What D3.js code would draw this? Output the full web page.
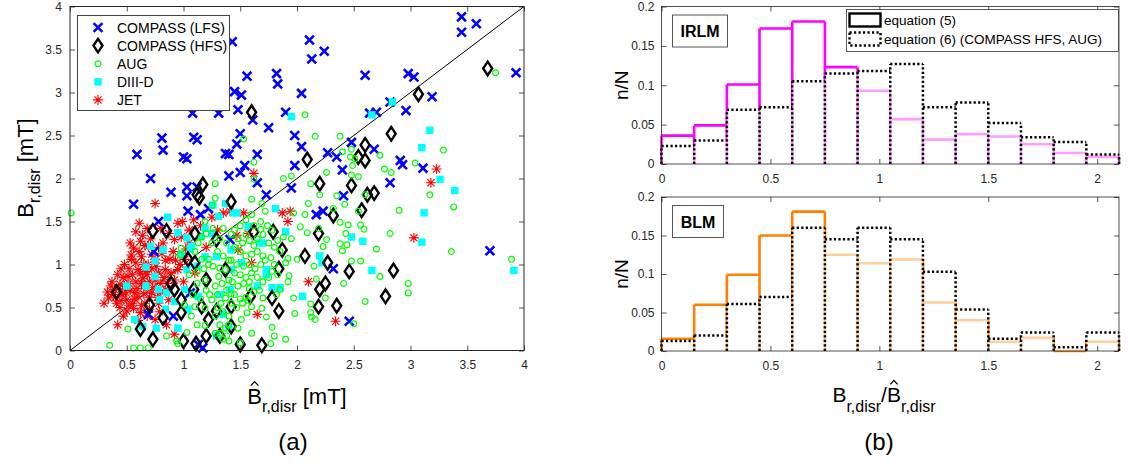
<!DOCTYPE html>
<html><head><meta charset="utf-8">
<script src="https://cdn.jsdelivr.net/npm/d3@7"></script>
<style>
body{margin:0;background:#fff}
svg{display:block}
text{font-family:"Liberation Sans",Arial,Helvetica,sans-serif}
</style>
</head><body>
<svg id="chart" width="1129" height="467"></svg>
<script>
// ---------------- DATA ----------------
const seriesNames = ["COMPASS (LFS)", "COMPASS (HFS)", "AUG", "DIII-D", "JET"];

const compassLFS = [[3.45,3.88],[3.45,3.70],[3.58,3.80],[3.93,3.23],[2.98,3.22],[3.03,3.18],[3.19,2.95],[2.96,2.79],[2.91,2.21],[2.93,2.16],[3.11,2.12],
[2.11,3.61],[2.13,3.39],[2.24,3.48],[1.82,3.22],[1.83,3.10],[1.56,3.19],[2.60,3.20],[2.04,2.99],[1.90,2.77],[1.61,2.68],[1.75,2.59],[1.98,2.50],[2.04,2.37],[1.65,2.28],[1.98,2.15],[2.27,2.30],[2.35,2.25],[2.40,2.10],[2.48,2.42],[2.64,2.76],[2.70,2.77],[2.82,2.89],[2.68,2.34],[2.82,1.95],
[1.43,3.59],[1.45,3.01],[1.51,2.97],[1.08,2.76],[1.31,2.76],[1.48,2.80],[0.81,2.47],[0.82,2.33],[0.59,2.28],[1.09,2.48],[1.12,2.45],[1.00,2.25],[1.03,2.23],[1.37,2.29],[1.40,2.28],[1.50,2.52],[1.47,2.40],[1.54,2.15],[1.50,2.07],[1.40,2.03],[0.71,2.00],
[0.89,1.84],[0.56,1.70],[1.03,1.90],[1.03,1.80],[1.12,1.90],[1.04,1.62],[1.15,1.58],[1.22,1.65],[0.78,1.50],[0.74,1.15],[0.69,0.42],[0.91,0.40],[1.17,0.03],[1.13,0.07],[1.06,0.67],
[1.65,1.95],[1.95,1.89],[1.73,1.81],[2.17,1.58],[2.23,1.62],[2.41,1.80],[1.41,1.29],[2.32,0.95],[2.46,0.34],[3.70,1.16]];

const compassHFS = [[3.68,3.28],[3.07,2.98],[1.60,2.77],[2.09,2.22],[2.60,2.39],[2.54,2.25],[2.60,2.21],[2.83,2.52],[2.20,1.94],[1.17,1.93],
[1.12,1.81],[1.14,1.78],[0.73,1.39],[0.85,1.39],[1.10,1.36],[0.41,0.68],[0.89,0.78],[0.92,0.71],[0.82,0.38],[0.73,0.13],[0.70,0.53],[1.00,0.11],[1.11,0.08],[1.20,0.17],[1.22,0.36],[0.98,0.44],[1.09,0.71],[0.98,0.59],[1.16,0.51],[1.20,0.82],[1.29,0.46],[1.37,0.94],[1.29,1.29],[1.04,1.06],[1.10,1.02],[0.62,0.25],[1.32,0.17],
[2.48,1.92],[2.68,1.83],[2.62,1.81],[1.42,1.73],[2.32,1.57],[2.57,1.63],[2.19,1.36],[2.07,1.10],[2.27,1.02],[2.46,0.92],[2.25,0.78],[2.20,0.71],[2.78,0.63],[2.35,0.52],[2.19,0.51],[1.84,0.46],[1.69,0.06],[1.50,0.07],[1.42,0.28],[1.87,1.17],[1.78,0.61],[1.59,0.63],[1.84,0.95],[1.79,1.38],[1.62,1.38],[1.42,0.51],[2.85,0.93]];

const aug = [[3.75,3.23],[3.29,2.33],[3.04,2.18],
[2.07,2.74],[2.16,2.49],[2.38,2.49],[1.62,2.19],[2.40,2.31],[2.48,2.34],[2.47,2.25],[2.51,2.23],[2.49,2.15],[2.48,2.04],[2.54,2.02],[2.26,2.07],[1.95,2.03],[1.88,2.00],[2.73,2.27],[2.77,2.11],[2.83,2.07],[1.62,1.99],[1.53,2.46],
[3.17,1.81],[3.38,1.67],[2.90,1.63],[2.82,1.36],[3.36,1.15],[3.89,1.06],[2.98,0.78],[2.98,0.67],
[2.12,1.94],[2.20,1.81],[2.35,1.80],[2.42,1.70],[2.60,1.81],[1.60,1.76],[2.10,1.71],[2.32,1.65],[2.54,1.62],[1.69,1.71],[1.97,1.60],[2.07,1.58],[2.38,1.49],[2.45,1.46],[2.19,1.42],[2.03,1.44],[1.68,1.41],[2.56,1.46],[2.43,1.36],[2.09,1.37],[2.26,1.29],[2.59,1.41],[2.38,1.24],[2.44,1.23],[2.40,1.16],[2.70,1.18],[2.23,1.21],[2.00,1.06],[1.92,1.07],[2.48,1.04],[2.56,1.04],[2.15,0.98],[1.90,1.02],[1.93,0.87],[2.17,0.83],[2.41,0.78],[2.73,0.86],[1.97,0.61],[2.12,0.54],[2.25,0.61],[2.60,0.57],[1.98,0.43],[2.12,0.44],[2.13,0.39],[2.16,0.36],[1.73,0.39],[1.78,0.27],[1.80,0.17],[1.90,0.13],[1.77,0.08],[2.50,0.31],[1.69,0.49],[1.60,0.51],[1.56,0.44],[1.51,0.36],[1.48,0.26],[1.50,0.09],[1.60,0.20],[1.70,0.61],[1.92,0.80],[1.82,0.65],[1.85,0.71],
[1.45,1.40],[1.50,1.45],[1.55,1.35],[1.48,1.30],[1.52,1.25],[1.58,1.28],[1.62,1.22],[1.45,1.20],[1.50,1.15],[1.55,1.10],[1.60,1.12],[1.65,1.15],[1.70,1.10],[1.42,1.05],[1.47,1.00],[1.53,0.98],[1.58,1.00],[1.63,0.95],[1.68,1.00],[1.72,1.05],[1.77,1.08],[1.80,1.00],[1.45,0.90],[1.50,0.88],[1.55,0.85],[1.60,0.90],[1.65,0.85],[1.70,0.80],[1.75,0.85],[1.43,0.80],[1.48,0.75],[1.53,0.78],[1.58,0.72],[1.62,0.68],[1.67,0.70],[1.45,0.65],[1.50,0.60],[1.55,0.62],[1.42,0.55],[1.47,0.50],[1.52,0.55],[1.57,0.58],[1.65,1.30],[1.70,1.35],[1.75,1.25],[1.80,1.20],[1.85,1.15],[1.62,1.45],[1.68,1.50],[1.74,1.45],[1.78,1.40],[1.60,1.58],[1.55,1.52],[1.72,1.62],[1.83,1.28],[1.88,1.32],[1.95,1.30],[1.78,0.92],[1.83,0.88],[1.58,0.80],
[1.28,1.94],[1.28,1.77],[0.01,1.60],[1.25,1.69],[1.19,1.50],[1.26,1.42],[1.35,1.42],[1.20,1.36],[0.98,1.19],[0.97,1.11],[1.16,1.06],[1.22,1.06],[1.26,0.98],[1.32,0.96],[1.37,0.94],[1.31,0.86],[1.40,0.82],[1.19,0.82],[1.12,0.78],[1.28,0.75],[1.34,0.78],[1.23,0.65],[1.25,0.59],[1.37,0.61],[1.01,0.53],[1.10,0.51],[1.19,0.49],[1.07,0.40],[1.12,0.30],[1.03,0.21],[1.19,0.29],[1.32,0.30],[1.37,0.26],[1.35,0.13],[1.40,0.11],[0.51,0.25],[0.35,0.06],[0.56,0.03],[0.62,0.03],[0.69,0.03],[0.85,0.17],[0.94,0.11],[0.95,0.08],[1.28,0.20],[1.32,0.20],
[1.30,0.50],[1.35,0.45],[1.40,0.40],[1.28,0.40],[1.38,0.70],[1.42,0.66],[1.33,0.55],[1.40,0.30],[1.38,0.17],[1.30,0.65],[1.20,0.70],[1.15,0.60],[1.08,0.65],[1.05,0.88],[1.12,0.92],[1.18,0.95],[1.22,1.00],[1.10,1.15],[1.13,1.25],[1.16,1.32],[1.25,1.25],[1.32,1.30],[1.38,1.25],[1.42,1.35],[1.35,1.10],[1.40,1.05],[1.30,1.15]];

const diiid = [[3.17,2.56],[3.10,2.36],[3.26,1.99],[1.95,2.72],[2.66,2.74],[2.84,2.89],[3.39,1.86],[3.12,1.60],[3.10,1.26],[3.91,0.93],
[0.86,1.55],[0.71,1.21],[0.82,1.17],[0.95,1.37],[1.03,1.31],[1.07,1.21],[0.98,1.11],[0.75,1.04],[0.67,0.97],[0.75,0.86],[0.67,0.75],[0.50,0.75],[0.78,0.71],[0.79,0.59],[0.85,0.67],[0.92,0.57],[1.01,0.71],[1.03,0.94],[1.12,0.98],[1.19,1.09],[1.29,1.09],[1.25,1.36],[1.31,1.56],[1.37,1.71],[1.26,1.69],[0.57,0.36],[0.64,0.28],[0.76,0.26],[0.84,0.48],[0.95,0.26],[1.04,0.48],[1.13,0.63],[1.19,1.42],[1.15,1.33],[1.29,0.17],[1.35,0.42],[1.32,0.65],[1.40,0.28],[1.06,1.18],
[1.44,1.60],[1.47,1.60],[1.81,1.65],[1.57,1.44],[1.90,1.38],[1.67,1.25],[1.70,1.25],[1.42,1.17],[1.51,1.02],[1.42,0.94],[1.73,0.94],[1.73,0.88],[1.65,0.75],[1.78,0.73],[1.85,0.73],[1.41,0.71],[2.05,0.63],[2.20,1.10],[2.22,1.02],[2.48,1.32],[2.58,1.27],[2.66,0.93]];

const jet = [[0.61,1.48],[0.62,1.27],[0.56,1.19],[0.75,1.71],[0.82,1.25],[0.92,1.29],[0.95,1.48],[0.99,1.50],[1.09,1.52],[0.88,1.06],[0.75,1.06],[0.69,1.00],[0.60,0.94],[0.51,0.86],[0.42,0.88],[0.39,0.71],[0.34,0.61],[0.41,0.55],[0.50,0.59],[0.57,0.67],[0.66,0.75],[0.75,0.82],[0.84,0.94],[0.81,1.13],[0.69,1.21],[0.63,1.09],[0.54,1.06],[0.48,0.75],[0.56,0.49],[0.62,0.44],[0.70,0.48],[0.42,0.30],[0.47,0.40],[0.60,0.63],[0.72,0.67],[0.84,0.71],[0.92,0.82],[0.76,0.98],[0.95,0.94],[1.01,1.06],[0.91,1.15],[0.87,1.36],[0.98,1.32],[0.64,1.34],[0.54,1.11],[0.44,0.77],[0.87,0.59],[0.78,0.55],[0.66,0.55],[0.92,0.19],[0.50,0.46],[0.38,0.65],[0.64,0.84],[0.75,0.36],
[0.58,0.80],[0.62,0.90],[0.68,0.88],[0.72,0.95],[0.78,0.90],[0.53,0.70],[0.46,0.65],[0.55,0.55],[0.70,0.62],[0.80,0.78],[0.65,1.00],[0.58,1.02],[0.72,1.12],[0.45,0.95],[0.52,0.95],[0.36,0.75],[0.30,0.55],[0.44,0.50],[0.60,0.35],[0.85,0.30],
[0.33,0.68],[0.37,0.80],[0.40,0.62],[0.43,0.72],[0.47,0.85],[0.49,0.68],[0.52,0.78],[0.55,0.88],[0.57,0.60],[0.59,0.72],[0.63,0.78],[0.65,0.66],[0.67,0.92],[0.70,0.80],[0.73,0.73],[0.77,0.62],[0.80,0.68],[0.83,0.85],[0.86,0.78],[0.89,0.90],[0.61,1.15],[0.66,1.22],[0.71,1.30],[0.78,1.20],[0.84,1.05],[0.48,1.00],[0.53,1.25],[0.58,1.38],[0.68,1.42],[0.80,1.42],[0.45,0.58],[0.52,0.52],[0.63,0.52],[0.68,0.40],[0.79,0.45],[0.97,1.00],[1.02,1.18],[0.93,1.05],
[1.15,1.45],[1.25,1.55],[1.05,1.40],[1.20,1.20],[1.30,1.40],[1.35,1.60],[1.10,0.90],[1.00,0.80],[1.05,1.25],
[1.53,1.60],[1.57,1.36],[1.87,1.60],[1.94,1.62],[1.92,1.50],[2.10,0.80],[1.65,0.42],[2.34,0.34],[1.47,1.34],[1.48,1.17],[1.60,1.02],[1.41,1.62],
[3.23,2.11],[3.18,1.95],[3.03,1.31],[1.62,2.06]];

const scatterTicks = [0,0.5,1,1.5,2,2.5,3,3.5,4];

const binEdges = [0,0.15,0.3,0.45,0.6,0.75,0.9,1.05,1.2,1.35,1.5,1.65,1.8,1.95,2.1];
const irlmEq5 = [0.036,0.049,0.101,0.172,0.181,0.123,0.093,0.057,0.031,0.038,0.035,0.025,0.014,0.009];
const irlmEq6 = [0.023,0.030,0.069,0.072,0.105,0.115,0.118,0.127,0.072,0.078,0.052,0.034,0.028,0.012];
const blmEq5  = [0.016,0.060,0.099,0.150,0.181,0.125,0.114,0.119,0.063,0.040,0.012,0.017,0.000,0.012];
const blmEq6  = [0.013,0.020,0.061,0.070,0.160,0.145,0.160,0.145,0.103,0.054,0.016,0.024,0.005,0.024];
const histXTicks = [0,0.5,1,1.5,2];
const histYTicks = [0,0.05,0.1,0.15,0.2];
const histLegend = ["equation (5)", "equation (6) (COMPASS HFS, AUG)"];
const panelNames = ["IRLM", "BLM"];

// ---------------- DRAWING ----------------
const svg = d3.select("#chart");
const AX = "#262626";
const fmt = d => String(d);

const markerPath = {
  x:(x,y)=>`M${x-4.4},${y-4.4}L${x+4.4},${y+4.4}M${x-4.4},${y+4.4}L${x+4.4},${y-4.4}`,
  d:(x,y)=>`M${x},${y-6.8}L${x+4.5},${y}L${x},${y+6.8}L${x-4.5},${y}Z`,
  o:(x,y)=>`M${x-2.9},${y}a2.9,2.9 0 1,0 5.8,0a2.9,2.9 0 1,0 -5.8,0`,
  s:(x,y)=>`M${x-3.7},${y-3.7}h7.4v7.4h-7.4Z`,
  a:(x,y)=>`M${x-5},${y}h10M${x},${y-5}v10M${x-3.6},${y-3.6}l7.2,7.2M${x-3.6},${y+3.6}l7.2,-7.2`
};
const markerStyle = {
  x:{stroke:"#0000ff", sw:2.6, fill:"none"},
  d:{stroke:"#000000", sw:2.4, fill:"none"},
  o:{stroke:"#00ff00", sw:1.2, fill:"none"},
  s:{stroke:"none", sw:0, fill:"#00ffff"},
  a:{stroke:"#ff0000", sw:1.1, fill:"none"}
};
const seriesList = [
  {name:seriesNames[0], data:compassLFS, m:"x"},
  {name:seriesNames[1], data:compassHFS, m:"d"},
  {name:seriesNames[2], data:aug, m:"o"},
  {name:seriesNames[3], data:diiid, m:"s"},
  {name:seriesNames[4], data:jet, m:"a"}
];

function styleAxis(g){
  g.select(".domain").remove();
  g.selectAll(".tick line").attr("stroke", AX).attr("stroke-width", 0.8);
  g.selectAll(".tick text").attr("fill", AX).attr("font-size", 12)
    .attr("font-family", '"Liberation Sans",Arial,sans-serif');
}

function richLabel(parent, parts, mainSize, subSize, subDy){
  const g = parent.append("g");
  let x = 0;
  parts.forEach(p=>{
    const size = p.sub ? subSize : mainSize;
    const t = g.append("text").attr("x", x).attr("y", p.sub ? subDy : 0)
      .attr("font-size", size).attr("fill", "#000").text(p.t);
    const w = t.node().getComputedTextLength();
    if (p.hat) {
      const cap = mainSize * 0.72;
      g.append("path")
        .attr("d", `M${x+w*0.24},${-cap-2.5}L${x+w*0.5},${-cap-6.5}L${x+w*0.76},${-cap-2.5}`)
        .attr("fill","none").attr("stroke","#000").attr("stroke-width",1.3);
    }
    x += w;
  });
  g.attr("transform", `translate(${-x/2},0)`);
  return g;
}

// ---- Left scatter ----
const xS = d3.scaleLinear().domain([0,4]).range([70,524]);
const yS = d3.scaleLinear().domain([0,4]).range([350.5,6.5]);

svg.append("line").attr("x1",xS(0)).attr("y1",yS(0)).attr("x2",xS(4)).attr("y2",yS(4))
  .attr("stroke","#000").attr("stroke-width",1);

const drawOrder = [4,0,3,1,2];
drawOrder.forEach(i=>{
  const s = seriesList[i], st = markerStyle[s.m];
  svg.append("g").selectAll("path").data(s.data).join("path")
    .attr("d", d=>markerPath[s.m](xS(d[0]), yS(d[1])))
    .attr("fill", st.fill).attr("stroke", st.stroke).attr("stroke-width", st.sw);
});

svg.append("g").attr("transform",`translate(0,${yS(0)})`)
  .call(d3.axisBottom(xS).tickValues(scatterTicks).tickFormat(fmt).tickSize(-5).tickSizeOuter(0).tickPadding(10)).call(styleAxis);
svg.append("g").attr("transform",`translate(0,${yS(4)})`)
  .call(d3.axisTop(xS).tickValues(scatterTicks).tickFormat("").tickSize(-5).tickSizeOuter(0)).call(styleAxis);
svg.append("g").attr("transform",`translate(${xS(0)},0)`)
  .call(d3.axisLeft(yS).tickValues(scatterTicks).tickFormat(fmt).tickSize(-5).tickSizeOuter(0).tickPadding(8)).call(styleAxis);
svg.append("g").attr("transform",`translate(${xS(4)},0)`)
  .call(d3.axisRight(yS).tickValues(scatterTicks).tickFormat("").tickSize(-5).tickSizeOuter(0)).call(styleAxis);
svg.append("rect").attr("x",xS(0)).attr("y",yS(4)).attr("width",xS(4)-xS(0)).attr("height",yS(0)-yS(4))
  .attr("fill","none").attr("stroke",AX).attr("stroke-width",1);

// legend (left)
const lg = svg.append("g");
lg.append("rect").attr("x",77.5).attr("y",15.5).attr("width",152).attr("height",95)
  .attr("fill","#fff").attr("stroke","#444").attr("stroke-width",1);
seriesList.forEach((s,i)=>{
  const cy = 27.5 + i*18.1, st = markerStyle[s.m];
  lg.append("path").attr("d", markerPath[s.m](98, cy))
    .attr("fill", st.fill).attr("stroke", st.stroke).attr("stroke-width", st.sw);
  lg.append("text").attr("x",117).attr("y",cy+5).attr("font-size",14).attr("fill","#000").text(s.name);
});

// axis labels left
const ylab = svg.append("g").attr("transform","translate(33,168) rotate(-90)");
richLabel(ylab, [{t:"B"},{t:"r,disr",sub:true},{t:"\u00A0[mT]"}], 22, 16, 7);
const xlab = svg.append("g").attr("transform","translate(297,404)");
richLabel(xlab, [{t:"B",hat:true},{t:"r,disr",sub:true},{t:"\u00A0[mT]"}], 22, 16, 8);

svg.append("text").attr("x",293).attr("y",450).attr("text-anchor","middle")
  .attr("font-family",'"Liberation Serif","Times New Roman",serif').attr("font-size",24).text("(a)");

// ---- Right histograms ----
const hx = d3.scaleLinear().domain([0,2.1]).range([661.5,1119]);
const panels = [
  {name:panelNames[0], eq5:irlmEq5, eq6:irlmEq6, color:"#ff00ff", top:6.5, bottom:164},
  {name:panelNames[1], eq5:blmEq5, eq6:blmEq6, color:"#ff8000", top:197, bottom:351}
];

function outlinePath(vals, hy){
  let dp = "";
  vals.forEach((v,i)=>{ dp += `M${hx(binEdges[i])},${hy(v)}L${hx(binEdges[i+1])},${hy(v)}`; });
  binEdges.forEach((e,j)=>{
    const h = Math.max(j>0 ? vals[j-1] : 0, j<vals.length ? vals[j] : 0);
    dp += `M${hx(e)},${hy(0)}L${hx(e)},${hy(h)}`;
  });
  return dp;
}

panels.forEach((p,pi)=>{
  const hy = d3.scaleLinear().domain([0,0.2]).range([p.bottom, p.top]);
  const g = svg.append("g");
  const bins = p.eq5.map((v,i)=>({x0:binEdges[i], x1:binEdges[i+1], v5:v, v6:p.eq6[i]}));
  // equation (5) outline
  g.append("path").attr("d", outlinePath(p.eq5, hy)).attr("fill","none")
    .attr("stroke",p.color).attr("stroke-width",2.6);
  // equation (6) bars: translucent white faces
  g.selectAll("rect.w").data(bins).join("rect").attr("class","w")
    .attr("x",d=>hx(d.x0)).attr("width",d=>hx(d.x1)-hx(d.x0))
    .attr("y",d=>hy(d.v6)).attr("height",d=>hy(0)-hy(d.v6))
    .attr("fill","#fff").attr("fill-opacity",0.62).attr("stroke","none");
  // dotted outline
  g.append("path").attr("d", outlinePath(p.eq6, hy)).attr("fill","none").attr("stroke","#000")
    .attr("stroke-width",2.5).attr("stroke-dasharray","2.2,2.3");

  svg.append("g").attr("transform",`translate(0,${p.bottom})`)
    .call(d3.axisBottom(hx).tickValues(histXTicks).tickFormat(fmt).tickSize(-5).tickSizeOuter(0).tickPadding(10)).call(styleAxis);
  svg.append("g").attr("transform",`translate(0,${p.top})`)
    .call(d3.axisTop(hx).tickValues(histXTicks).tickFormat("").tickSize(-5).tickSizeOuter(0)).call(styleAxis);
  svg.append("g").attr("transform",`translate(${hx(0)},0)`)
    .call(d3.axisLeft(hy).tickValues(histYTicks).tickFormat(fmt).tickSize(-5).tickSizeOuter(0).tickPadding(7)).call(styleAxis);
  svg.append("g").attr("transform",`translate(${hx(2.1)},0)`)
    .call(d3.axisRight(hy).tickValues(histYTicks).tickFormat("").tickSize(-5).tickSizeOuter(0)).call(styleAxis);
  svg.append("rect").attr("x",hx(0)).attr("y",p.top).attr("width",hx(2.1)-hx(0)).attr("height",p.bottom-p.top)
    .attr("fill","none").attr("stroke",AX).attr("stroke-width",0.8);

  // panel tag box
  const bx = 672.5, by = p.top + 8.5;
  svg.append("rect").attr("x",bx).attr("y",by).attr("width", pi===0?55:51).attr("height",32)
    .attr("fill","#fff").attr("stroke","#555").attr("stroke-width",1);
  svg.append("text").attr("x",bx + (pi===0?27.5:25.5)).attr("y",by+22).attr("text-anchor","middle")
    .attr("font-size",16).attr("font-weight","bold").attr("fill","#000").text(p.name);

  // n/N label
  svg.append("text").attr("transform",`translate(628,${(p.top+p.bottom)/2}) rotate(-90)`)
    .attr("text-anchor","middle").attr("font-size",19).attr("fill","#000").text("n/N");
});

// legend (right)
const rg = svg.append("g");
rg.append("rect").attr("x",846.5).attr("y",9.5).attr("width",272).attr("height",42)
  .attr("fill","#fff").attr("stroke","#333").attr("stroke-width",0.8);
rg.append("rect").attr("x",849.5).attr("y",13.5).attr("width",31).attr("height",13)
  .attr("fill","none").attr("stroke","#000").attr("stroke-width",2.4);
rg.append("rect").attr("x",849.5).attr("y",32.5).attr("width",31).attr("height",13)
  .attr("fill","none").attr("stroke","#000").attr("stroke-width",2.4).attr("stroke-dasharray","2.2,2.3");
rg.append("text").attr("x",884).attr("y",25).attr("font-size",13.5).attr("fill","#000").text(histLegend[0]);
rg.append("text").attr("x",884).attr("y",44).attr("font-size",13.5).attr("fill","#000").text(histLegend[1]);

// x label right
const xlab2 = svg.append("g").attr("transform","translate(884,402)");
richLabel(xlab2, [{t:"B"},{t:"r,disr",sub:true},{t:"/"},{t:"B",hat:true},{t:"r,disr",sub:true}], 21, 16, 10);

svg.append("text").attr("x",879).attr("y",450).attr("text-anchor","middle")
  .attr("font-family",'"Liberation Serif","Times New Roman",serif').attr("font-size",24).text("(b)");
</script>
</body></html>
